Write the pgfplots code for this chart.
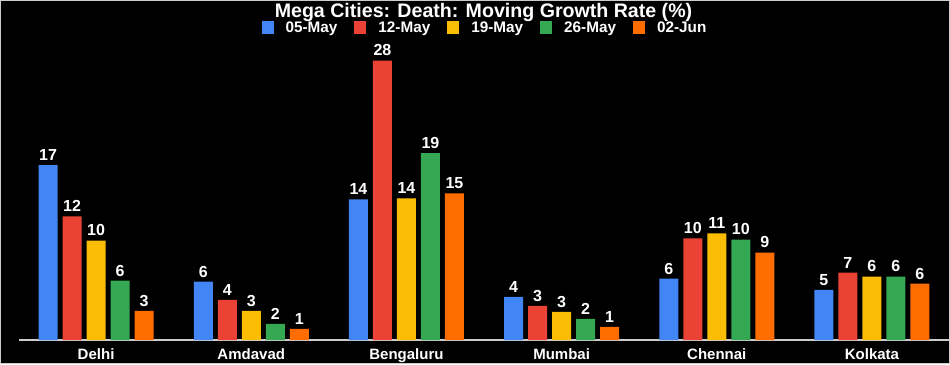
\documentclass[border=0pt]{standalone}
\usepackage{fontspec}
\setmainfont{Liberation Sans}
\usepackage{pgfplots}
\pgfplotsset{compat=1.18}
\usepackage{pgfplotstable}
\definecolor{cA}{HTML}{4285F4}
\definecolor{cB}{HTML}{EA4335}
\definecolor{cC}{HTML}{FBBC04}
\definecolor{cD}{HTML}{34A853}
\definecolor{cE}{HTML}{FF6D01}
\pgfplotstableread{
idx a b c d e
0 17.4 12.3 9.9 5.9 2.9
1 5.8 4.0 2.9 1.6 1.1
2 14.0 27.8 14.1 18.6 14.6
3 4.3 3.4 2.8 2.1 1.3
4 6.1 10.1 10.6 10.0 8.7
5 5.0 6.7 6.3 6.3 5.6
}\data
\begin{document}
\begin{tikzpicture}[x=1pt,y=1pt]
\fill[black] (0,0) rectangle (950,364);
\path[use as bounding box] (0,0) rectangle (950,364);
\draw[black!20, line width=1pt] (0.5,0.5) rectangle (949.5,363.5);
\node[text=white, font=\fontsize{19.6}{22}\selectfont\bfseries, anchor=base, inner sep=0pt] at (483.5,346) {Mega Cities: Death: Moving Growth Rate (\%)};
\begin{axis}[at={(18.5pt,24pt)}, anchor=south west, scale only axis,
  width=931pt, height=301.5pt, xmin=-0.5, xmax=5.5, ymin=0, ymax=30,
  clip=false,
  ybar=5pt, bar width=19pt,
  axis y line=none, axis x line*=bottom,
  x axis line style={black!20, line width=1.5pt, -},
  xtick=data, xticklabels={Delhi,Amdavad,Bengaluru,Mumbai,Chennai,Kolkata},
  major tick length=0pt,
  xticklabel style={text=white, font=\fontsize{15}{17}\selectfont\bfseries, yshift=-5pt},
  nodes near coords={\pgfmathprintnumber[fixed,precision=0,assume math mode=true]{\pgfplotspointmeta}},
  every node near coord/.append style={text=white, font=\fontsize{16}{18}\selectfont\bfseries, anchor=south, yshift=1pt},
  legend style={at={(0.501,1.035)}, anchor=center, draw=none, fill=none, text=white,
    font=\fontsize{15.3}{17}\selectfont\bfseries, legend columns=5,
    /tikz/every odd column/.append style={column sep=10pt},
    /tikz/every even column/.append style={column sep=15pt}},
  legend image code/.code={\fill[#1] (0pt,-6.5pt) rectangle (12pt,6.5pt);},
]
\addplot[fill=cA, draw=none] table[x=idx, y=a]{\data};
\addplot[fill=cB, draw=none] table[x=idx, y=b]{\data};
\addplot[fill=cC, draw=none] table[x=idx, y=c]{\data};
\addplot[fill=cD, draw=none] table[x=idx, y=d]{\data};
\addplot[fill=cE, draw=none] table[x=idx, y=e]{\data};
\legend{05-May,12-May,19-May,26-May,02-Jun}
\end{axis}
\end{tikzpicture}
\end{document}
